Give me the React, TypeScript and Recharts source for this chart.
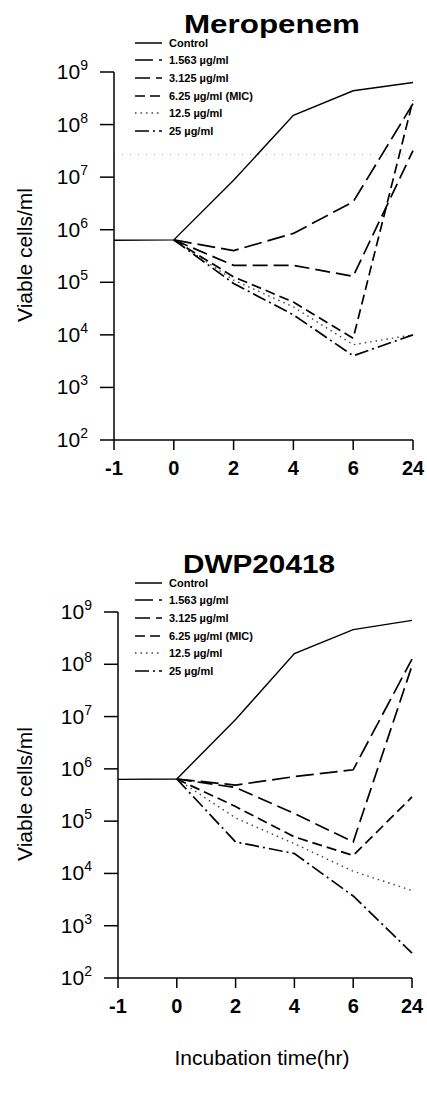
import { LineChart, Line, XAxis, YAxis, Legend, ReferenceLine } from "recharts";

// incubation time categories (hr)
const times = ["-1", "0", "2", "4", "6", "24"];
const yTicks = [1e2, 1e3, 1e4, 1e5, 1e6, 1e7, 1e8, 1e9];

const seriesNames = [
  "Control",
  "1.563 µg/ml",
  "3.125 µg/ml",
  "6.25 µg/ml (MIC)",
  "12.5 µg/ml",
  "25 µg/ml",
];

// Meropenem, viable cells/ml
const meroControl = [6.3e5, 6.4e5, 8.7e6, 1.5e8, 4.4e8, 6.3e8];
const mero1563 = [null, 6.4e5, 4.0e5, 8.5e5, 3.4e6, 2.5e8];
const mero3125 = [null, 6.4e5, 2.1e5, 2.1e5, 1.3e5, 3.2e7];
const mero625 = [null, 6.4e5, 1.27e5, 4.2e4, 8.6e3, 2.9e8];
const mero125 = [null, 6.4e5, 1.1e5, 3.4e4, 6.5e3, 1.0e4];
const mero25 = [null, 6.4e5, 9.5e4, 2.4e4, 4.0e3, 1.0e4];
const meroGuide = 2.7e7;

// DWP20418, viable cells/ml
const dwpControl = [6.3e5, 6.4e5, 8.8e6, 1.6e8, 4.6e8, 6.9e8];
const dwp1563 = [null, 6.4e5, 4.9e5, 7.1e5, 9.6e5, 1.26e8];
const dwp3125 = [null, 6.4e5, 4.4e5, 1.4e5, 4.0e4, 9.4e7];
const dwp625 = [null, 6.4e5, 1.9e5, 5.0e4, 2.2e4, 2.9e5];
const dwp125 = [null, 6.4e5, 1.15e5, 3.7e4, 1.1e4, 4.7e3];
const dwp25 = [null, 6.4e5, 4.0e4, 2.4e4, 3.7e3, 3.0e2];

const styles = [
  { dash: undefined, width: 1.4, color: "#000" },
  { dash: "18 6", width: 1.7, color: "#000" },
  { dash: "15 6", width: 1.7, color: "#000" },
  { dash: "10 5", width: 1.7, color: "#000" },
  { dash: "1.5 4", width: 1.4, color: "#444" },
  { dash: "14 4 2 4", width: 1.7, color: "#000" },
];

const FONT = "'Liberation Sans', Arial, sans-serif";

function buildRows(series: (number | null)[][]) {
  return times.map((t, i) => {
    const row: Record<string, any> = { time: t };
    series.forEach((s, k) => {
      row["s" + k] = s[i];
    });
    return row;
  });
}

const YTick = ({ x, y, payload }: any) => {
  const exp = Math.round(Math.log10(payload.value));
  return (
    <text x={x} y={y + 7} textAnchor="end" fontFamily={FONT} fill="#000">
      <tspan fontSize={21}>10</tspan>
      <tspan fontSize={14} dy={-9}>
        {exp}
      </tspan>
    </text>
  );
};

const XTick = ({ x, y, payload }: any) => (
  <text
    x={x}
    y={y}
    dy="0.71em"
    textAnchor="middle"
    fontFamily={FONT}
    fontWeight="bold"
    fontSize={20}
    fill="#000"
  >
    {payload.value}
  </text>
);

const LegendBox = () => (
  <div style={{ fontFamily: FONT, fontWeight: "bold", fontSize: 11 }}>
    {seriesNames.map((n, i) => (
      <div key={n} style={{ display: "flex", alignItems: "center", height: 17.6 }}>
        <svg width={34} height={6}>
          <line
            x1={0}
            x2={27}
            y1={3}
            y2={3}
            stroke={styles[i].color}
            strokeWidth={1.5}
            strokeDasharray={styles[i].dash}
          />
        </svg>
        <span>{n}</span>
      </div>
    ))}
  </div>
);

function Panel({
  series,
  title,
  titleX,
  titleLen,
  axisW,
  right,
  plotH,
  guide,
  xLabel,
}: {
  series: (number | null)[][];
  title: string;
  titleX: number;
  titleLen: number;
  axisW: number;
  right: number;
  plotH: number;
  guide?: number;
  xLabel?: string;
}) {
  const data = buildRows(series);
  const H = 500;
  return (
    <div style={{ position: "relative", width: 427, height: H }}>
      <LineChart
        width={427}
        height={H}
        data={data}
        margin={{ top: 72, right, left: 0, bottom: 0 }}
      >
        <XAxis
          dataKey="time"
          type="category"
          padding={{ left: 0, right: 0 }}
          stroke="#000"
          strokeWidth={1.5}
          tickSize={10}
          tickMargin={11}
          height={H - 72 - plotH}
          tick={<XTick />}
        />
        <YAxis
          scale="log"
          domain={[1e2, 1e9]}
          ticks={yTicks}
          allowDataOverflow
          stroke="#000"
          strokeWidth={1.5}
          tickSize={14}
          tickMargin={12}
          width={axisW}
          tick={<YTick />}
        />
        {guide ? (
          <ReferenceLine y={guide} stroke="#aaa" strokeDasharray="1 7" />
        ) : null}
        <Legend
          content={<LegendBox />}
          layout="horizontal"
          verticalAlign="middle"
          align="center"
          wrapperStyle={{ left: 135, top: 34, width: 200 }}
        />
        {series.map((_, k) => (
          <Line
            key={k}
            dataKey={"s" + k}
            name={seriesNames[k]}
            stroke={styles[k].color}
            strokeWidth={styles[k].width}
            strokeDasharray={styles[k].dash}
            dot={false}
            activeDot={false}
            connectNulls={false}
            isAnimationActive={false}
          />
        ))}
      </LineChart>
      <svg
        width={427}
        height={H}
        style={{ position: "absolute", left: 0, top: 0, pointerEvents: "none" }}
      >
        <text
          x={titleX}
          y={33}
          textAnchor="middle"
          fontFamily={FONT}
          fontWeight="bold"
          fontSize={25}
          textLength={titleLen}
          lengthAdjust="spacingAndGlyphs"
        >
          {title}
        </text>
        <text
          transform={`translate(32, ${72 + plotH / 2 - 1}) rotate(-90)`}
          textAnchor="middle"
          fontFamily={FONT}
          fontSize={21}
        >
          Viable cells/ml
        </text>
      </svg>
      {xLabel ? (
        <div
          style={{
            position: "absolute",
            left: 0,
            width: 524,
            top: H + 6,
            textAlign: "center",
            fontFamily: FONT,
            fontSize: 21,
          }}
        >
          {xLabel}
        </div>
      ) : null}
    </div>
  );
}

export default function App() {
  return (
    <div
      style={{
        position: "absolute",
        left: 0,
        top: 0,
        width: 427,
        height: 1107,
        background: "#fff",
      }}
    >
      <div style={{ position: "absolute", left: 0, top: 0 }}>
        <Panel
          series={[meroControl, mero1563, mero3125, mero625, mero125, mero25]}
          title="Meropenem"
          titleX={272}
          titleLen={176}
          axisW={114}
          right={14}
          plotH={368}
          guide={meroGuide}
        />
      </div>
      <div style={{ position: "absolute", left: 0, top: 540 }}>
        <Panel
          series={[dwpControl, dwp1563, dwp3125, dwp625, dwp125, dwp25]}
          title="DWP20418"
          titleX={259}
          titleLen={152}
          axisW={118}
          right={15}
          plotH={366}
          xLabel="Incubation time(hr)"
        />
      </div>
    </div>
  );
}
